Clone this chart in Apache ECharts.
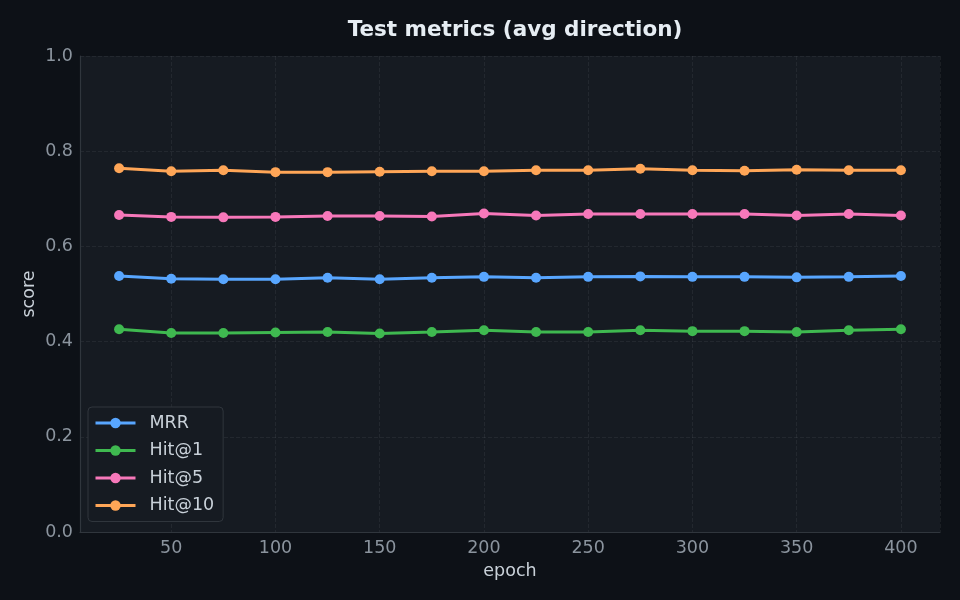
<!DOCTYPE html>
<html>
<head>
<meta charset="utf-8">
<script src="https://cdn.jsdelivr.net/npm/echarts@6/dist/echarts.min.js"></script>
<style>
  html, body { margin: 0; padding: 0; background: #0d1117; }
  #chart { width: 960px; height: 600px; }
</style>
</head>
<body>
<div id="chart"></div>
<script>
// epochs on x
var epochs = [25, 50, 75, 100, 125, 150, 175, 200, 225, 250, 275, 300, 325, 350, 375, 400];

// scores
var mrr   = [0.538, 0.532, 0.531, 0.531, 0.534, 0.531, 0.534, 0.536, 0.534, 0.536, 0.537, 0.536, 0.536, 0.535, 0.536, 0.538];
var hit1  = [0.426, 0.418, 0.418, 0.419, 0.420, 0.417, 0.420, 0.424, 0.420, 0.420, 0.424, 0.422, 0.422, 0.420, 0.424, 0.426];
var hit5  = [0.666, 0.662, 0.661, 0.662, 0.664, 0.664, 0.663, 0.669, 0.665, 0.668, 0.668, 0.668, 0.668, 0.665, 0.668, 0.665];
var hit10 = [0.764, 0.758, 0.760, 0.756, 0.756, 0.757, 0.758, 0.758, 0.760, 0.760, 0.763, 0.760, 0.759, 0.761, 0.760, 0.760];

var names  = ['MRR', 'Hit@1', 'Hit@5', 'Hit@10'];
var colors = ['#58a6ff', '#3fb950', '#f778ba', '#ffa657'];
var values = [mrr, hit1, hit5, hit10];

function pairs(ys) {
    return epochs.map(function (x, i) { return [x, ys[i]]; });
}

var font = 'DejaVu Sans';
var series = names.map(function (n, k) {
    return {
        name: n,
        type: 'line',
        data: pairs(values[k]),
        symbol: 'circle',
        symbolSize: 10,
        color: colors[k],
        lineStyle: { width: 3, color: colors[k] },
        itemStyle: { color: colors[k] },
        emphasis: { disabled: true },
        animation: false
    };
});

var chart = echarts.init(document.getElementById('chart'));
chart.setOption({
    backgroundColor: '#0d1117',
    animation: false,
    title: {
        text: 'Test metrics (avg direction)',
        left: 510, textAlign: 'center',
        top: 14,
        textStyle: { color: '#e6edf3', fontSize: 21.5, fontWeight: 'bold', fontFamily: font }
    },
    grid: {
        left: 80, right: 20, top: 56, bottom: 68,
        show: true, backgroundColor: '#161b22', borderWidth: 0
    },
    legend: {
        data: names,
        orient: 'vertical',
        left: 88, top: 407,
        padding: [7, 9, 7, 6],
        itemWidth: 40, itemHeight: 13, itemGap: 9.5,
        lineStyle: { width: 3 },
        backgroundColor: '#161b22',
        borderColor: '#30363d', borderWidth: 1, borderRadius: 4,
        textStyle: { color: '#c9d1d9', fontSize: 17.5, fontFamily: font, lineHeight: 18, padding: [0, 0, 0, 9] }
    },
    xAxis: {
        type: 'value',
        min: 6.25, max: 418.75, splitNumber: 8,
        name: 'epoch', nameLocation: 'middle', nameGap: 30, nameMoveOverlap: false,
        nameTextStyle: { color: '#c9d1d9', fontSize: 17.5, fontFamily: font },
        axisLine: { show: true, lineStyle: { color: '#30363d', width: 1.2 } },
        axisTick: { show: false },
        axisLabel: {
            color: '#8b949e', fontSize: 17.5, fontFamily: font, margin: 7,
            showMinLabel: false, showMaxLabel: false
        },
        splitLine: { show: true, lineStyle: { color: 'rgba(255,255,255,0.06)', type: 'dashed' } }
    },
    yAxis: {
        type: 'value',
        min: 0, max: 1, interval: 0.2,
        name: 'score', nameLocation: 'middle', nameGap: 42, nameMoveOverlap: false,
        nameTextStyle: { color: '#c9d1d9', fontSize: 17.5, fontFamily: font },
        axisLine: { show: true, lineStyle: { color: '#30363d', width: 1.2 } },
        axisTick: { show: false },
        axisLabel: {
            color: '#8b949e', fontSize: 17.5, fontFamily: font, margin: 7,
            formatter: function (v) { return v.toFixed(1); }
        },
        splitLine: { show: true, lineStyle: { color: 'rgba(255,255,255,0.06)', type: 'dashed' } }
    },
    series: series
});
</script>
</body>
</html>
